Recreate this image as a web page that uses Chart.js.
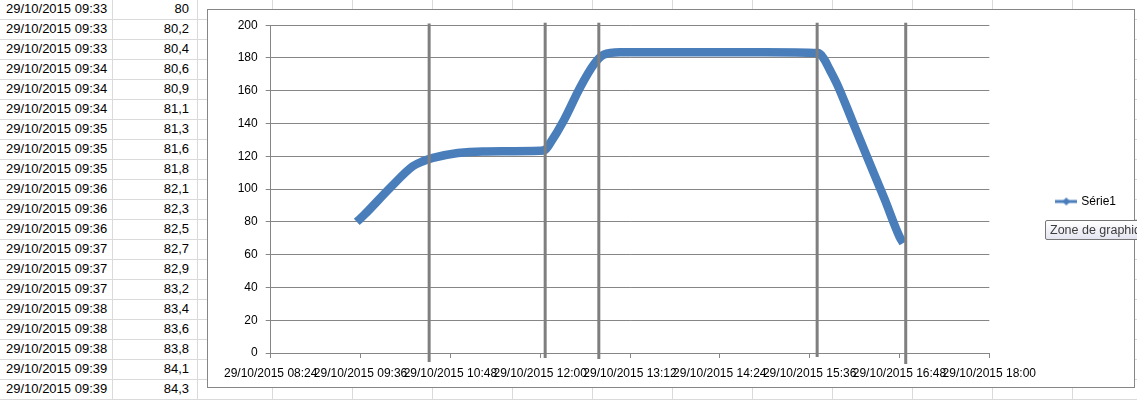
<!DOCTYPE html>
<html>
<head>
<meta charset="utf-8">
<script src="https://cdn.jsdelivr.net/npm/chart.js@4.4.0/dist/chart.umd.min.js"></script>
<style>
  html, body { margin: 0; padding: 0; }
  body {
    width: 1137px; height: 400px; overflow: hidden; position: relative;
    background: #fff;
    background-image: linear-gradient(to bottom, transparent 19px, #dadada 19px, #dadada 20px);
    background-size: 100% 20px;
    font-family: "Liberation Sans", Arial, sans-serif;
  }
  .vline { position: absolute; top: 0; width: 1px; height: 400px; background: #dadada; }
  .cell { position: absolute; height: 20px; line-height: 20px; font-size: 13px; color: #000; white-space: nowrap; }
  .colA { left: 6px; }
  .colB { left: 112px; width: 77px; text-align: right; }
  #box { position: absolute; left: 207px; top: 9px; width: 926px; height: 377px; border: 1px solid #868686; background: #fff; }
  #wrap { position: absolute; left: 208px; top: 10px; width: 925px; height: 376px; }
  #tip { position: absolute; left: 1045px; top: 220px; height: 18px; padding: 0 6px 0 4px; line-height: 18px;
         border: 1px solid #767676; border-radius: 2px; font-size: 12.5px; color: #3c3c3c; white-space: nowrap;
         background: linear-gradient(to bottom, #ffffff, #e4e5f0); }
</style>
</head>
<body>
<div id="sheet"></div>
<div id="box"></div>
<div id="wrap"><canvas id="graph"></canvas></div>
<div id="tip">Zone de graphique</div>
<script>
// spreadsheet cells on the left
var tableTimes = ['09:33','09:33','09:33','09:34','09:34','09:34','09:35','09:35','09:35','09:36',
                  '09:36','09:36','09:37','09:37','09:37','09:38','09:38','09:38','09:39','09:39']
var tableValues = ['80','80,2','80,4','80,6','80,9','81,1','81,3','81,6','81,8','82,1',
                   '82,3','82,5','82,7','82,9','83,2','83,4','83,6','83,8','84,1','84,3']

// series
var seriesTimes = ['09:33','09:39','10:00','10:18','10:26','10:34','10:54','11:14','12:00','12:04',
                   '12:08','12:19','12:32','12:43','12:51','13:04','14:00','15:00','15:43','15:47',
                   '15:52','15:58','16:10','16:24','16:36','16:48','16:51']
var seriesValues = [80, 84.3, 101, 114, 117, 119, 122, 123, 123.4, 124,
                    128, 142, 162, 176, 182, 183.5, 183.5, 183.5, 183, 180,
                    173, 164, 142, 116, 94, 71, 67]

var xTickLabels = ['29/10/2015 08:24','29/10/2015 09:36','29/10/2015 10:48','29/10/2015 12:00',
                   '29/10/2015 13:12','29/10/2015 14:24','29/10/2015 15:36','29/10/2015 16:48',
                   '29/10/2015 18:00']

// thick grey lines drawn over the chart
var markerTimes = ['10:31','12:04','12:47','15:42','16:53']
var markerFrom = [-5.5, -3, -3.6, -2.4, -6.7]
var markerTo = [201, 201.5, 201.5, 201.5, 201.5]

function toMin(s) {
  var p = s.split(':')
  return parseInt(p[0]) * 60 + parseInt(p[1])
}

var sheet = document.getElementById('sheet')
var colLines = [112, 197, 272, 352, 432, 512, 592, 672, 752, 832, 912, 992, 1072]
colLines.forEach(function(x) {
  var d = document.createElement('div')
  d.className = 'vline'
  d.style.left = x + 'px'
  sheet.appendChild(d)
})
for (var i = 0; i < tableTimes.length; i++) {
  var a = document.createElement('div')
  a.className = 'cell colA'
  a.style.top = (20 * i - 1) + 'px'
  a.textContent = '29/10/2015 ' + tableTimes[i]
  sheet.appendChild(a)
  var b = document.createElement('div')
  b.className = 'cell colB'
  b.style.top = (20 * i - 1) + 'px'
  b.textContent = tableValues[i]
  sheet.appendChild(b)
}

var points = []
for (var i = 0; i < seriesTimes.length; i++) {
  points.push({x: toMin(seriesTimes[i]), y: seriesValues[i]})
}

// legend symbol: line with diamond
var sym = document.createElement('canvas')
sym.width = 22
sym.height = 10
var sc = sym.getContext('2d')
sc.strokeStyle = '#4a7ebb'
sc.lineWidth = 3
sc.beginPath(); sc.moveTo(0, 5); sc.lineTo(22, 5); sc.stroke()
sc.fillStyle = '#4a7ebb'
sc.beginPath(); sc.moveTo(11, 1); sc.lineTo(15, 5); sc.lineTo(11, 9); sc.lineTo(7, 5); sc.closePath(); sc.fill()

var markerPlugin = {
  id: 'markers',
  afterDatasetsDraw: function(chart) {
    var c = chart.ctx
    var xs = chart.scales.x, ys = chart.scales.y
    c.save()
    c.strokeStyle = '#7f7f7f'
    c.lineWidth = 3
    for (var i = 0; i < markerTimes.length; i++) {
      var x = xs.getPixelForValue(toMin(markerTimes[i]))
      c.beginPath()
      c.moveTo(x, ys.getPixelForValue(markerTo[i]))
      c.lineTo(x, ys.getPixelForValue(markerFrom[i]))
      c.stroke()
    }
    c.restore()
  }
}

const ctx = document.getElementById('graph')

new Chart(ctx, {
  type: 'line',
  data: {
    datasets: [{
      label: 'Série1',
      data: points,
      borderColor: '#4a7ebb',
      backgroundColor: '#4a7ebb',
      borderWidth: 8.5,
      pointRadius: 0,
      fill: false,
      borderJoinStyle: 'round',
      cubicInterpolationMode: 'monotone'
    }]
  },
  options: {
    responsive: true,
    maintainAspectRatio: false,
    animation: false,
    layout: { padding: { top: 7, right: 7, left: 0, bottom: 0 } },
    plugins: {
      legend: {
        position: 'right',
        labels: {
          usePointStyle: true,
          pointStyle: sym,
          pointStyleWidth: 18,
          padding: 13,
          color: '#000',
          font: { family: 'Liberation Sans', size: 12 }
        }
      },
      tooltip: { enabled: false }
    },
    scales: {
      x: {
        type: 'linear',
        min: 504,
        max: 1080,
        afterFit: function(s) { s.height = 33 },
        ticks: {
          stepSize: 72,
          autoSkip: false,
          maxRotation: 0,
          minRotation: 0,
          padding: 8,
          color: '#000',
          font: { family: 'Liberation Sans', size: 12 },
          callback: function(v, i) { return xTickLabels[i] }
        },
        grid: { drawOnChartArea: false, drawTicks: true, tickLength: 5, color: '#868686' },
        border: { color: '#868686' }
      },
      y: {
        min: 0,
        max: 200,
        afterFit: function(s) { s.width = 62.7 },
        ticks: {
          stepSize: 20,
          padding: 8,
          color: '#000',
          font: { family: 'Liberation Sans', size: 12 }
        },
        grid: { color: '#868686', tickLength: 5 },
        border: { color: '#868686' }
      },
      gap: {
        position: 'right',
        display: true,
        afterFit: function(s) { s.width = 55 },
        grid: { display: false },
        border: { display: false },
        ticks: { display: false }
      }
    }
  },
  plugins: [markerPlugin]
})
</script>
</body>
</html>
